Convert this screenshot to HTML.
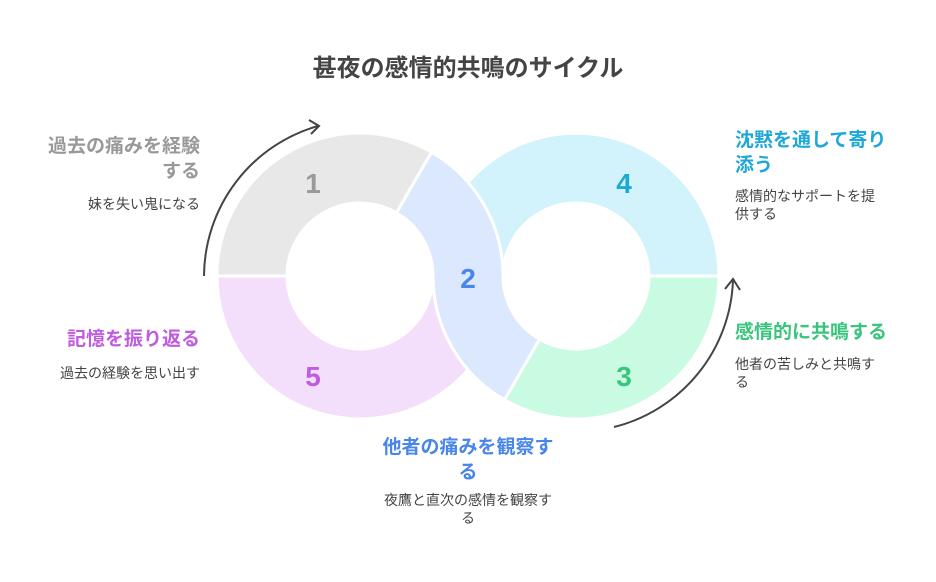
<!DOCTYPE html>
<html><head><meta charset="utf-8"><style>
body{margin:0;background:#fff;}
svg text{font-family:"Liberation Sans","Noto Sans CJK JP",sans-serif;}
</style></head><body>
<svg width="936" height="577" viewBox="0 0 936 577" xmlns="http://www.w3.org/2000/svg">
<rect width="936" height="577" fill="#fff"/>
<text x="468" y="76" text-anchor="middle" font-size="24" font-weight="bold" fill="#444">甚夜の感情的共鳴のサイクル</text>
<g stroke="#fff" stroke-width="3">
<!-- 1: left ring 60..180 -->
<path d="M431.5 152.2 A143 143 0 0 0 217 276 L287 276 A73 73 0 0 1 396.5 212.8 Z" fill="#e8e8e8"/>
<!-- 5 -->
<path d="M217 276 A143 143 0 0 0 468 369.7 A143 143 0 0 1 433 276 A73 73 0 0 1 360 349 A73 73 0 0 1 287 276 Z" fill="#f3dffc"/>
<!-- 4: right ring 0..180 -->
<path d="M433 276 A143 143 0 0 1 719 276 L649 276 A73 73 0 0 0 503 276 Z" fill="#d2f3fc"/>
<!-- 3: right ring 240..360 -->
<path d="M504.5 399.8 A143 143 0 0 0 719 276 L649 276 A73 73 0 0 1 539.5 339.2 Z" fill="#c9fbe3"/>
<!-- 2 -->
<path d="M431.5 152.2 A143 143 0 0 1 503 276 A73 73 0 0 0 539.5 339.2 L504.5 399.8 A143 143 0 0 1 433 276 A73 73 0 0 0 396.5 212.8 Z" fill="#dbe8fd"/>
</g>
<g font-size="28" font-weight="bold" text-anchor="middle">
<text x="313" y="193" fill="#999">1</text>
<text x="468" y="288" fill="#4a86e8">2</text>
<text x="624" y="193" fill="#1ea8d8">4</text>
<text x="624" y="386" fill="#3ac47d">3</text>
<text x="313" y="386" fill="#c05ce0">5</text>
</g>
<g fill="none" stroke="#444" stroke-width="2">
<path d="M204 276 A157 157 0 0 1 318 126"/>
<path d="M309 120 L319 126 L311 134"/>
<path d="M614 427 A157 157 0 0 0 733 280"/>
<path d="M725 289 L733 279 L740 290"/>
</g>
<g font-size="19" font-weight="bold">
<text x="200" y="152" text-anchor="end" fill="#999">過去の痛みを経験</text>
<text x="200" y="177" text-anchor="end" fill="#999">する</text>
<text x="200" y="345" text-anchor="end" fill="#c05ce0">記憶を振り返る</text>
<text x="735" y="146" fill="#1ea8d8">沈黙を通して寄り</text>
<text x="735" y="171" fill="#1ea8d8">添う</text>
<text x="735" y="338" fill="#3ac47d">感情的に共鳴する</text>
<text x="468" y="453" text-anchor="middle" fill="#4a86e8">他者の痛みを観察す</text>
<text x="468" y="478" text-anchor="middle" fill="#4a86e8">る</text>
</g>
<g font-size="14" fill="#444">
<text x="200" y="209" text-anchor="end">妹を失い鬼になる</text>
<text x="200" y="378" text-anchor="end">過去の経験を思い出す</text>
<text x="735" y="201">感情的なサポートを提</text>
<text x="735" y="219">供する</text>
<text x="735" y="369">他者の苦しみと共鳴す</text>
<text x="735" y="387">る</text>
<text x="468" y="505" text-anchor="middle">夜鷹と直次の感情を観察す</text>
<text x="468" y="523" text-anchor="middle">る</text>
</g>
</svg>
</body></html>
